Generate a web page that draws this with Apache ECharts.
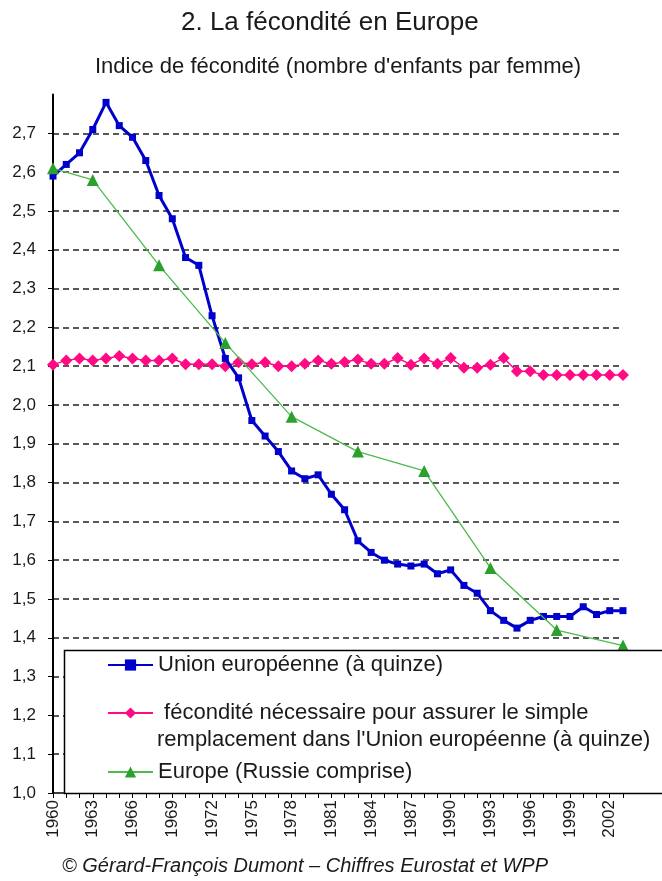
<!DOCTYPE html>
<html>
<head>
<meta charset="utf-8">
<title>La fécondité en Europe</title>
<script src="https://cdn.jsdelivr.net/npm/echarts/dist/echarts.min.js"></script>
<style>
  html, body { margin: 0; padding: 0; background: #fff; }
  #chart { width: 662px; height: 881px; }
</style>
</head>
<body>
<div id="chart"></div>
<script>
// années (axe des catégories)
var years = ['1960', '1961', '1962', '1963', '1964', '1965', '1966', '1967', '1968', '1969',
    '1970', '1971', '1972', '1973', '1974', '1975', '1976', '1977', '1978', '1979',
    '1980', '1981', '1982', '1983', '1984', '1985', '1986', '1987', '1988', '1989',
    '1990', '1991', '1992', '1993', '1994', '1995', '1996', '1997', '1998', '1999',
    '2000', '2001', '2002', '2003'];

// Union européenne (à quinze)
var ue15 = [2.59, 2.62, 2.65, 2.71, 2.78, 2.72, 2.69, 2.63, 2.54, 2.48,
    2.38, 2.36, 2.23, 2.12, 2.07, 1.96, 1.92, 1.88, 1.83, 1.81,
    1.82, 1.77, 1.73, 1.65, 1.62, 1.60, 1.59, 1.585, 1.59, 1.565,
    1.575, 1.535, 1.515, 1.47, 1.445, 1.425, 1.445, 1.455, 1.455, 1.455,
    1.48, 1.46, 1.47, 1.47];

// seuil de remplacement
var remplacement = [2.104, 2.115, 2.12, 2.115, 2.12, 2.126, 2.12, 2.115, 2.115, 2.12,
    2.105, 2.105, 2.105, 2.10, 2.11, 2.105, 2.11, 2.10, 2.10, 2.106,
    2.115, 2.106, 2.111, 2.117, 2.106, 2.106, 2.121, 2.104, 2.12, 2.106,
    2.121, 2.096, 2.096, 2.104, 2.121, 2.087, 2.087, 2.077, 2.077, 2.077,
    2.077, 2.077, 2.077, 2.077];

// Europe (Russie comprise), tous les 5 ans
var europe = [2.61, null, null, 2.58, null, null, null, null, 2.36, null,
    null, null, null, 2.16, null, null, null, null, 1.97, null,
    null, null, null, 1.88, null, null, null, null, 1.83, null,
    null, null, null, 1.58, null, null, null, null, 1.42, null,
    null, null, null, 1.38];

var nomUE = 'Union européenne (à quinze)';
var nomRemp = ' fécondité nécessaire pour assurer le simple';
var nomRemp2 = 'remplacement dans l\'Union européenne (à quinze)';
var nomEurope = 'Europe (Russie comprise)';

var font = 'Liberation Sans, Arial, sans-serif';
var txt = '#1a1a1a';

var chart = echarts.init(document.getElementById('chart'));

// une légende par série, placées dans le même cadre
function legende(nom, top) {
    return {
        orient: 'vertical',
        left: 107,
        top: top,
        padding: 0,
        itemWidth: 45,
        itemHeight: 14,
        z: 20,
        textStyle: { fontSize: 22, lineHeight: 24, color: txt, fontFamily: font },
        data: [nom]
    };
}

var option = {
    animation: false,
    backgroundColor: '#fff',
    textStyle: { fontFamily: font },
    title: [
        {
            text: '2. La fécondité en Europe',
            left: 181,
            top: 10,
            padding: 0,
            textStyle: { fontSize: 26, fontWeight: 'normal', color: txt, fontFamily: font }
        },
        {
            text: 'Indice de fécondité (nombre d\'enfants par femme)',
            left: 95,
            top: 56,
            padding: 0,
            textStyle: { fontSize: 22, fontWeight: 'normal', color: txt, fontFamily: font }
        },
        {
            text: '© Gérard-François Dumont – Chiffres Eurostat et WPP',
            left: 62,
            top: 856,
            padding: 0,
            textStyle: { fontSize: 20, fontStyle: 'italic', fontWeight: 'normal', color: txt, fontFamily: font }
        }
    ],
    grid: {
        left: 53,
        right: 39,
        top: 94.6,
        bottom: 88,
        outerBoundsMode: 'none'
    },
    graphic: [
        {
            type: 'rect',
            z: 15,
            shape: { x: 64.5, y: 650.5, width: 620, height: 143 },
            style: { fill: '#fff', stroke: '#000', lineWidth: 1.5 }
        },
        {
            type: 'text',
            z: 20,
            x: 157,
            y: 740,
            style: {
                text: nomRemp2,
                fontSize: 22,
                fontFamily: font,
                fill: txt,
                verticalAlign: 'middle'
            }
        }
    ],
    legend: [
        legende(nomUE, 653),
        legende(nomRemp, 701),
        legende(nomEurope, 760)
    ],
    xAxis: {
        type: 'category',
        data: years,
        boundaryGap: false,
        axisLine: { lineStyle: { color: '#000', width: 1.5 } },
        axisTick: { show: true, interval: 0, length: 5, lineStyle: { color: '#000', width: 1 } },
        axisLabel: {
            interval: 2,
            rotate: 90,
            margin: 7,
            fontSize: 17,
            color: txt,
            fontFamily: font
        },
        splitLine: { show: false }
    },
    yAxis: {
        type: 'value',
        min: 1,
        max: 2.8,
        interval: 0.1,
        axisLine: { show: true, lineStyle: { color: '#000', width: 2 } },
        axisTick: { show: true, length: 5, lineStyle: { color: '#000', width: 1 } },
        axisLabel: {
            margin: 17,
            fontSize: 17,
            color: txt,
            fontFamily: font,
            showMaxLabel: false,
            formatter: function (v) { return v.toFixed(1).replace('.', ','); }
        },
        splitLine: {
            show: true,
            showMinLine: false,
            showMaxLine: false,
            lineStyle: { color: '#222', width: 1.5, type: [6, 4] }
        }
    },
    series: [
        {
            name: nomUE,
            type: 'line',
            data: ue15,
            showAllSymbol: true,
            symbol: 'rect',
            symbolSize: 7,
            itemStyle: { color: '#0000cc' },
            lineStyle: { color: '#0000cc', width: 3 },
            z: 3
        },
        {
            name: nomRemp,
            type: 'line',
            data: remplacement,
            showAllSymbol: true,
            symbol: 'diamond',
            symbolSize: 12,
            itemStyle: { color: '#ff0a84' },
            lineStyle: { color: '#ff0a84', width: 1.5 },
            z: 2
        },
        {
            name: nomEurope,
            type: 'line',
            data: europe,
            connectNulls: true,
            showAllSymbol: true,
            symbol: 'triangle',
            symbolSize: 12,
            itemStyle: { color: '#2ca02c' },
            lineStyle: { color: '#4cbb4c', width: 1.3 },
            z: 4
        }
    ]
};

chart.setOption(option);
</script>
</body>
</html>
